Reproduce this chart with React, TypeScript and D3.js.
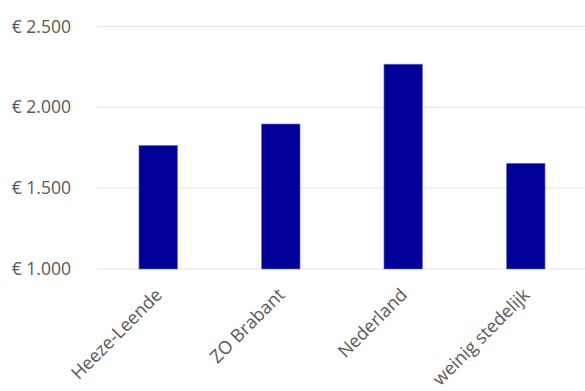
import React from "react";
import * as d3 from "d3";

const categories = ["Heeze-Leende", "ZO Brabant", "Nederland", "weinig stedelijk"];
const values = [1765, 1897, 2267, 1654];
const yTicks = [1000, 1500, 2000, 2500];

const W = 585;
const H = 391;

export default function App() {
  const x = d3.scaleBand<string>().domain(categories).range([97, 587]).paddingInner(0.685).paddingOuter(0.3425);
  const y = d3.scaleLinear().domain([1000, 2500]).range([269, 26.5]);
  const fmt = (v: number) => "€ " + d3.format(",")(v).replace(/,/g, ".");
  const font = "'Open Sans', sans-serif";
  return (
    <svg width={W} height={H} style={{ position: "absolute", left: 0, top: 0 }} fontFamily={font}>
      {yTicks.map((t) => (
        <g key={t}>
          <line x1={97} x2={585} y1={y(t)} y2={y(t)} stroke="#e3e3e3" strokeWidth={1} />
          <text x={71} y={y(t)} dy="0.35em" textAnchor="end" fontSize={17.5} fill="#595959">
            {fmt(t)}
          </text>
        </g>
      ))}
      {categories.map((c, i) => (
        <rect
          key={c}
          x={x(c)}
          y={y(values[i])}
          width={x.bandwidth()}
          height={y(1000) - y(values[i])}
          fill="#000099"
          stroke="#7a7ad0"
          strokeWidth={0.6}
        />
      ))}
      {categories.map((c) => {
        const cx = (x(c) as number) + x.bandwidth() / 2 + 5;
        const cy = 296;
        return (
          <text
            key={c}
            transform={`translate(${cx},${cy}) rotate(-45)`}
            textAnchor="end"
            fontSize={18}
            fill="#595959"
          >
            {c}
          </text>
        );
      })}
    </svg>
  );
}
